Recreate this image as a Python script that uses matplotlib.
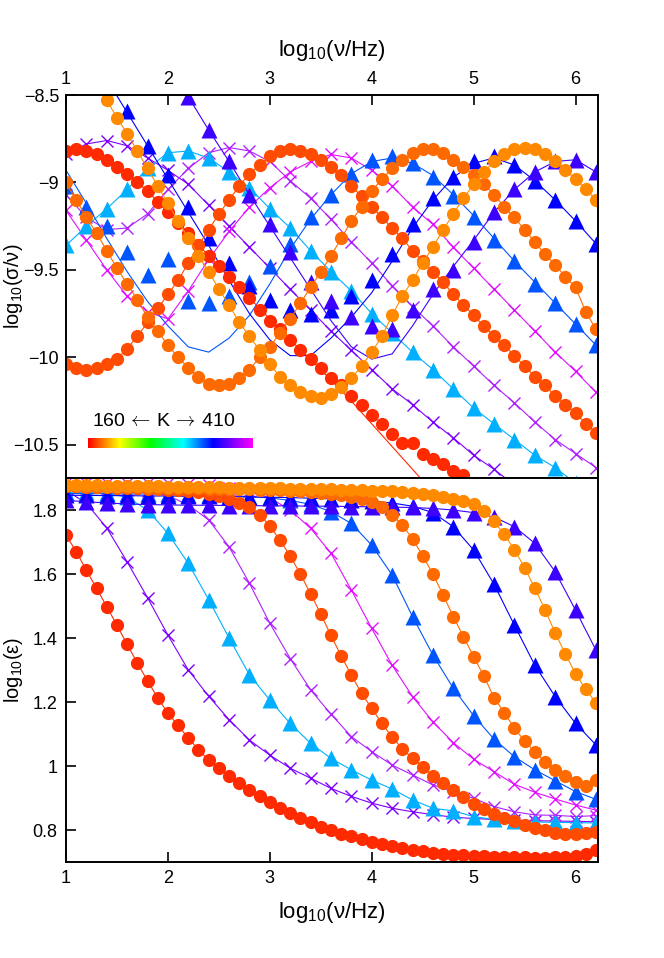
import numpy as np
import matplotlib
matplotlib.use("Agg")
import matplotlib.pyplot as plt
from matplotlib.colors import LinearSegmentedColormap
from matplotlib.ticker import FuncFormatter, MultipleLocator

plt.rcParams['font.family'] = ['Liberation Sans', 'DejaVu Sans']
plt.rcParams['mathtext.fontset'] = 'custom'
plt.rcParams['mathtext.rm'] = 'Liberation Sans'

# frequency grids, log10(nu/Hz)
freq_fine = [1.0, 1.1, 1.2, 1.3, 1.4, 1.5, 1.6, 1.7, 1.8, 1.9,
             2.0, 2.1, 2.2, 2.3, 2.4, 2.5, 2.6, 2.7, 2.8, 2.9,
             3.0, 3.1, 3.2, 3.3, 3.4, 3.5, 3.6, 3.7, 3.8, 3.9,
             4.0, 4.1, 4.2, 4.3, 4.4, 4.5, 4.6, 4.7, 4.8, 4.9,
             5.0, 5.1, 5.2, 5.3, 5.4, 5.5, 5.6, 5.7, 5.8, 5.9,
             6.0, 6.1, 6.2]
freq_coarse = [1.0, 1.2, 1.4, 1.6, 1.8, 2.0, 2.2, 2.4, 2.6, 2.8,
               3.0, 3.2, 3.4, 3.6, 3.8, 4.0, 4.2, 4.4, 4.6, 4.8,
               5.0, 5.2, 5.4, 5.6, 5.8, 6.0, 6.2]
nan = np.nan

# ---- circle series (fine grid) ----
# log10(sigma/nu)
c1_sig = [-8.82, -8.81, -8.82, -8.84, -8.87, -8.91, -8.95, -9.00, -9.05, -9.11,
          -9.17, -9.23, -9.29, -9.36, -9.42, -9.48, -9.54, -9.60, -9.66, -9.73,
          -9.79, -9.84, -9.90, -9.96, -10.01, -10.06, -10.12, -10.16, -10.22, -10.27,
          -10.33, -10.38, -10.44, -10.49, -10.49, -10.55, -10.58, -10.61, -10.65, -10.67,
          -10.72, -10.76, -10.80, nan, nan, nan, nan, nan, nan, nan,
          nan, nan, nan]
c2_sig = [-10.04, -10.06, -10.07, -10.06, -10.04, -10.01, -9.95, -9.88, -9.80, -9.72,
          -9.64, -9.56, -9.46, -9.36, -9.27, -9.18, -9.10, -9.02, -8.95, -8.90,
          -8.85, -8.82, -8.81, -8.82, -8.84, -8.87, -8.91, -8.96, -9.02, -9.08,
          -9.14, -9.20, -9.26, -9.32, -9.39, -9.45, -9.51, -9.57, -9.64, -9.70,
          -9.76, -9.82, -9.88, -9.93, -9.99, -10.05, -10.11, -10.16, -10.22, -10.27,
          -10.32, -10.38, -10.43]
c3_sig = [-9.00, -9.10, -9.20, -9.29, -9.39, -9.49, -9.58, -9.67, -9.77, -9.85,
          -9.93, -10.00, -10.06, -10.11, -10.15, -10.16, -10.15, -10.12, -10.07, -10.00,
          -9.94, -9.86, -9.78, -9.69, -9.60, -9.51, -9.42, -9.32, -9.22, -9.14,
          -9.05, -8.98, -8.92, -8.87, -8.83, -8.81, -8.81, -8.83, -8.87, -8.91,
          -8.96, -9.01, -9.07, -9.14, -9.20, -9.27, -9.34, -9.41, -9.47, -9.54,
          -9.60, -9.74, -9.84]
c4_sig = [-8.13, -8.23, -8.33, -8.43, -8.53, -8.63, -8.72, -8.82, -8.92, -9.02,
          -9.12, -9.22, -9.32, -9.42, -9.51, -9.61, -9.70, -9.80, -9.88, -9.96,
          -10.04, -10.11, -10.16, -10.20, -10.22, -10.23, -10.21, -10.17, -10.12, -10.05,
          -9.97, -9.88, -9.76, -9.65, -9.56, -9.46, -9.37, -9.27, -9.18, -9.09,
          -9.01, -8.94, -8.88, -8.84, -8.81, -8.80, -8.81, -8.84, -8.88, -8.93,
          -8.98, -9.04, -9.10]
# log10(eps)
c1_eps = [1.722, 1.670, 1.612, 1.555, 1.498, 1.440, 1.380, 1.322, 1.266, 1.213,
          1.165, 1.127, 1.087, 1.051, 1.019, 0.993, 0.968, 0.946, 0.925, 0.905,
          0.886, 0.869, 0.853, 0.838, 0.824, 0.810, 0.799, 0.789, 0.780, 0.772,
          0.764, 0.757, 0.750, 0.744, 0.738, 0.733, 0.729, 0.726, 0.723, 0.721,
          0.719, 0.718, 0.717, 0.716, 0.715, 0.715, 0.714, 0.714, 0.715, 0.716,
          0.719, 0.725, 0.739]
c2_eps = [1.875, 1.874, 1.873, 1.872, 1.871, 1.870, 1.869, 1.868, 1.867, 1.866,
          1.864, 1.862, 1.859, 1.855, 1.850, 1.843, 1.834, 1.823, 1.808, 1.786,
          1.750, 1.706, 1.656, 1.600, 1.538, 1.475, 1.408, 1.344, 1.284, 1.227,
          1.180, 1.133, 1.090, 1.054, 1.024, 0.996, 0.970, 0.946, 0.925, 0.903,
          0.882, 0.866, 0.849, 0.838, 0.827, 0.817, 0.807, 0.799, 0.792, 0.789,
          0.788, 0.791, 0.794]
c3_eps = [1.874, 1.874, 1.873, 1.873, 1.872, 1.872, 1.871, 1.871, 1.870, 1.870,
          1.869, 1.869, 1.868, 1.868, 1.867, 1.867, 1.866, 1.866, 1.865, 1.864,
          1.863, 1.862, 1.861, 1.859, 1.857, 1.854, 1.850, 1.846, 1.840, 1.834,
          1.826, 1.810, 1.785, 1.753, 1.710, 1.657, 1.600, 1.535, 1.467, 1.404,
          1.342, 1.281, 1.214, 1.166, 1.119, 1.077, 1.045, 1.014, 0.989, 0.968,
          0.951, 0.936, 0.956]
c4_eps = [1.878, 1.878, 1.877, 1.877, 1.876, 1.876, 1.875, 1.875, 1.874, 1.874,
          1.873, 1.873, 1.872, 1.872, 1.871, 1.871, 1.870, 1.870, 1.869, 1.869,
          1.868, 1.868, 1.867, 1.867, 1.866, 1.866, 1.865, 1.864, 1.863, 1.862,
          1.861, 1.860, 1.858, 1.856, 1.853, 1.850, 1.846, 1.841, 1.835, 1.828,
          1.818, 1.797, 1.765, 1.724, 1.676, 1.620, 1.556, 1.488, 1.416, 1.350,
          1.288, 1.240, 1.197]
# fitted curve of the red set (coarse grid), leaves the points at high frequency
c1_sig_fit = [-8.82, -8.82, -8.87, -8.95, -9.05, -9.17, -9.29, -9.42, -9.54, -9.66,
              -9.78, -9.90, -10.01, -10.13, -10.25, -10.38, -10.51, -10.64, -10.77, nan,
              nan, nan, nan, nan, nan, nan, nan]

# ---- triangle series (coarse grid) ----
t1_sig = [-9.36, -9.25, -9.15, -9.04, -8.92, -8.83, -8.82, -8.86, -8.94, -9.03,
          -9.15, -9.26, -9.39, -9.51, -9.62, -9.75, -9.86, -9.97, -10.07, -10.18,
          -10.29, -10.38, -10.47, -10.56, -10.63, -10.72, -10.80]
t2_sig = [-9.02, -9.14, -9.25, -9.40, -9.53, -9.44, -9.68, -9.69, -9.65, -9.57,
          -9.48, -9.35, -9.20, -9.07, -8.95, -8.87, -8.85, -8.89, -8.97, -9.08,
          -9.20, -9.33, -9.45, -9.58, -9.69, -9.81, -9.93]
t3_sig = [-8.02, -8.21, -8.41, -8.59, -8.79, -8.96, -9.14, -9.32, -9.46, -9.59,
          -9.67, -9.73, -9.75, -9.73, -9.65, -9.56, -9.41, -9.24, -9.09, -8.97,
          -8.88, -8.85, -8.90, -8.99, -9.10, -9.22, -9.35]
t4_sig = [nan, nan, nan, nan, -8.15, -8.33, -8.51, -8.70, -8.88, -9.07,
          -9.24, -9.40, -9.57, -9.68, -9.77, -9.82, -9.84, -9.73, -9.61, -9.50,
          -9.34, -9.17, -9.04, -8.94, -8.88, -8.87, -8.94]
t2_sig_fit = [-8.93, -9.12, -9.32, -9.51, -9.68, -9.82, -9.94, -9.97, -9.89, -9.76,
              -9.58, -9.38, -9.21, -9.07, -8.95, -8.88, -8.86, -8.89, -8.96, -9.07,
              -9.19, -9.32, -9.45, -9.57, -9.69, -9.81, -9.93]
t3_sig_fit = [-8.02, -8.21, -8.41, -8.60, -8.79, -8.98, -9.17, -9.36, -9.56, -9.75,
              -9.90, -9.99, -9.99, -9.89, -9.77, -9.63, -9.45, -9.26, -9.10, -8.97,
              -8.89, -8.86, -8.90, -8.99, -9.10, -9.22, -9.35]
t4_sig_fit = [nan, nan, nan, nan, -8.15, -8.33, -8.51, -8.70, -8.88, -9.07,
              -9.25, -9.43, -9.61, -9.79, -9.94, -10.01, -9.98, -9.82, -9.64, -9.48,
              -9.33, -9.17, -9.04, -8.94, -8.88, -8.87, -8.94]
t1_eps = [1.856, 1.855, 1.852, 1.840, 1.800, 1.727, 1.633, 1.520, 1.400, 1.285,
          1.206, 1.133, 1.071, 1.024, 0.988, 0.956, 0.928, 0.894, 0.868, 0.860,
          0.842, 0.833, 0.828, 0.825, 0.824, 0.823, 0.822]
t2_eps = [1.852, 1.851, 1.851, 1.850, 1.850, 1.849, 1.848, 1.847, 1.845, 1.842,
          1.838, 1.830, 1.818, 1.795, 1.758, 1.690, 1.597, 1.467, 1.347, 1.243,
          1.157, 1.084, 1.029, 0.988, 0.954, 0.920, 0.896]
t3_eps = [1.846, 1.846, 1.845, 1.845, 1.844, 1.844, 1.843, 1.843, 1.842, 1.841,
          1.840, 1.839, 1.837, 1.835, 1.832, 1.828, 1.822, 1.812, 1.792, 1.748,
          1.675, 1.568, 1.440, 1.315, 1.217, 1.133, 1.066]
t4_eps = [1.830, 1.826, 1.822, 1.819, 1.817, 1.816, 1.815, 1.815, 1.814, 1.814,
          1.813, 1.813, 1.812, 1.812, 1.811, 1.810, 1.809, 1.808, 1.805, 1.800,
          1.792, 1.778, 1.748, 1.696, 1.607, 1.487, 1.362]

# ---- cross series (coarse grid) ----
x1_sig = [-8.84, -8.78, -8.76, -8.79, -8.86, -8.93, -9.01, -9.13, -9.25, -9.37,
          -9.49, -9.61, -9.73, -9.85, -9.96, -10.07, -10.18, -10.27, -10.37, -10.46,
          -10.56, -10.64, -10.73, -10.82, nan, nan, nan]
x2_sig = [-9.07, -9.20, -9.27, -9.26, -9.18, -9.04, -8.92, -8.83, -8.80, -8.82,
          -8.88, -8.99, -9.09, -9.21, -9.34, -9.46, -9.59, -9.71, -9.82, -9.94,
          -10.05, -10.16, -10.26, -10.37, -10.47, -10.55, -10.63]
x3_sig = [-9.16, -9.33, -9.50, -9.65, -9.74, -9.78, -9.62, -9.44, -9.28, -9.14,
          -9.03, -8.94, -8.88, -8.84, -8.86, -8.93, -9.02, -9.14, -9.24, -9.37,
          -9.49, -9.61, -9.73, -9.85, -9.97, -10.08, -10.20]
x1_eps = [1.862, 1.821, 1.744, 1.638, 1.526, 1.409, 1.300, 1.218, 1.145, 1.081,
          1.034, 0.993, 0.962, 0.930, 0.905, 0.884, 0.868, 0.857, 0.848, 0.840,
          0.836, 0.833, 0.831, 0.829, 0.828, 0.827, 0.826]
x2_eps = [1.870, 1.869, 1.867, 1.864, 1.858, 1.845, 1.816, 1.769, 1.685, 1.571,
          1.446, 1.336, 1.238, 1.162, 1.092, 1.045, 1.003, 0.972, 0.941, 0.920,
          0.899, 0.873, 0.857, 0.847, 0.846, 0.842, 0.845]
x3_eps = [1.886, 1.886, 1.885, 1.885, 1.884, 1.883, 1.881, 1.877, 1.870, 1.858,
          1.838, 1.800, 1.743, 1.665, 1.550, 1.430, 1.315, 1.217, 1.138, 1.073,
          1.021, 0.982, 0.943, 0.918, 0.897, 0.878, 0.862]

# colours
col_c = ['#ff2a00', '#ff4c00', '#ff6a00', '#ff8a00']
col_t = ['#00b0ff', '#0055ff', '#0000ff', '#3c00ff']
col_x = ['#7d00ff', '#b020ff', '#e010ff']

fig = plt.figure(figsize=(6.64, 9.58), dpi=100)
ax1 = fig.add_axes([0.0994, 0.501, 0.8012, 0.3998])
ax2 = fig.add_axes([0.0994, 0.1002, 0.8012, 0.4008])

lw = 0.8
ms_o, ms_t, ms_x = 9.5, 11, 9

# Top panel: crosses, triangles, circles
for y, c in zip([x1_sig, x2_sig, x3_sig], col_x):
    ax1.plot(freq_coarse, y, color=c, lw=lw, marker='x', ms=ms_x, mew=1.0)
ax1.plot(freq_coarse, t1_sig, color=col_t[0], lw=lw, marker='^', ms=ms_t, mec='none')
for y, yf, c in zip([t2_sig, t3_sig, t4_sig], [t2_sig_fit, t3_sig_fit, t4_sig_fit], col_t[1:]):
    ax1.plot(freq_coarse, yf, color=c, lw=lw)
    ax1.plot(freq_coarse, y, color=c, ls='none', marker='^', ms=ms_t, mec='none')
ax1.plot(freq_coarse, c1_sig_fit, color=col_c[0], lw=lw)
ax1.plot(freq_fine, c1_sig, color=col_c[0], ls='none', marker='o', ms=ms_o, mec='none')
for y, c in zip([c2_sig, c3_sig, c4_sig], col_c[1:]):
    ax1.plot(freq_fine, y, color=c, lw=lw, marker='o', ms=ms_o, mec='none')

# Bottom panel
for y, c in zip([x1_eps, x2_eps, x3_eps], col_x):
    ax2.plot(freq_coarse, y, color=c, lw=lw, marker='x', ms=ms_x, mew=1.0)
for y, c in zip([t1_eps, t2_eps, t3_eps, t4_eps], col_t):
    ax2.plot(freq_coarse, y, color=c, lw=lw, marker='^', ms=ms_t, mec='none')
for y, c in zip([c1_eps, c2_eps, c3_eps, c4_eps], col_c):
    ax2.plot(freq_fine, y, color=c, lw=lw, marker='o', ms=ms_o, mec='none')

fmt = FuncFormatter(lambda v, p: ('%g' % round(v, 3)).replace('-', '\u2212'))
tick_fs = 13
label_fs = 14.5

ax1.set_xlim(1, 6.22)
ax1.set_ylim(-10.69, -8.5)
ax1.yaxis.set_major_locator(MultipleLocator(0.5))
ax1.yaxis.set_major_formatter(fmt)
ax1.xaxis.set_major_locator(MultipleLocator(1))
ax1.xaxis.set_major_formatter(fmt)
ax1.xaxis.tick_top()
ax1.xaxis.set_label_position('top')
ax1.tick_params(direction='in', length=7, width=1.2, labelsize=tick_fs, pad=5,
                top=True, bottom=False, left=True, right=False)
ax1.set_xlabel(r'log$_{10}$(ν/Hz)', fontsize=16, labelpad=11)
ax1.set_ylabel(r'log$_{10}$(σ/ν)', fontsize=label_fs)

ax2.set_xlim(1, 6.22)
ax2.set_ylim(0.7, 1.9)
ax2.yaxis.set_major_locator(MultipleLocator(0.2))
ax2.yaxis.set_major_formatter(fmt)
ax2.xaxis.set_major_locator(MultipleLocator(1))
ax2.xaxis.set_major_formatter(fmt)
ax2.tick_params(direction='in', length=7, width=1.2, labelsize=tick_fs, pad=6,
                top=False, bottom=True, left=True, right=False)
ax2.set_xlabel(r'log$_{10}$(ν/Hz)', fontsize=16, labelpad=9)
ax2.set_ylabel(r'log$_{10}$(ε)', fontsize=label_fs)

for ax in (ax1, ax2):
    for s in ax.spines.values():
        s.set_linewidth(1.4)
ax1.yaxis.set_label_coords(-0.077, 0.5)
ax2.yaxis.set_label_coords(-0.077, 0.5)

# temperature colour key
cmap = LinearSegmentedColormap.from_list('temp', [(0.0, '#ff0000'), (0.19, '#ffff00'), (0.38, '#00ff00'),
                                                  (0.58, '#00ffff'), (0.76, '#0000ff'), (1.0, '#ff00ff')])
cax = fig.add_axes([0.1325, 0.532, 0.247, 0.0105])
cax.imshow(np.linspace(0, 1, 256)[None, :], aspect='auto', cmap=cmap)
cax.set_axis_off()
fig.text(0.247, 0.5605, r'160$\,\leftarrow\,$K$\,\rightarrow\,$410', ha='center', va='center',
         fontsize=14, math_fontfamily='cm')

fig.savefig('out.png', dpi=100)
